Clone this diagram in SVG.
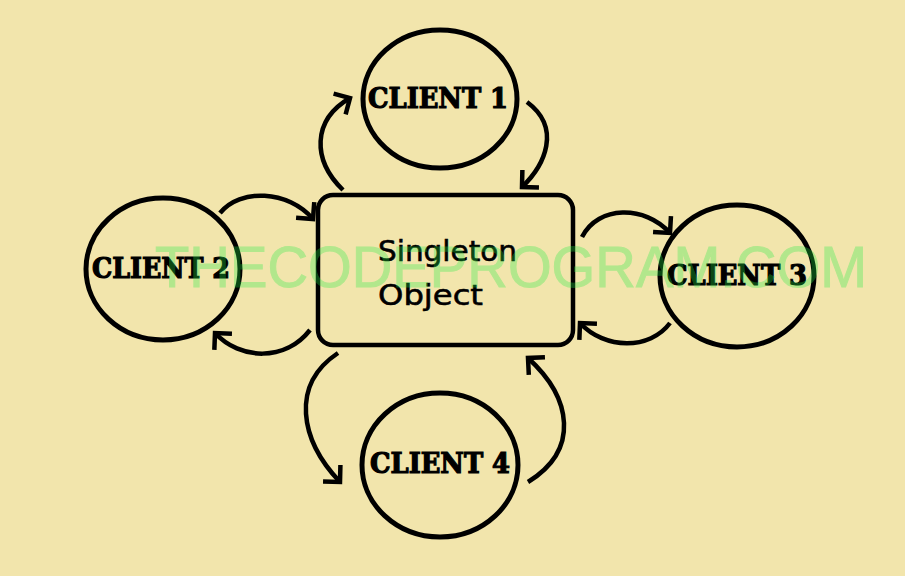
<svg xmlns="http://www.w3.org/2000/svg" width="905" height="576" viewBox="0 0 905 576">
  <defs>
    <marker id="arrow" markerUnits="userSpaceOnUse" viewBox="-20 -20 40 40" markerWidth="40" markerHeight="40" refX="0" refY="0" orient="auto" overflow="visible">
      <path d="M-12,-12 L0,0 L-12,12" fill="none" stroke="#000" stroke-width="4.5" stroke-linejoin="miter"/>
    </marker>
  </defs>
  <style>
    .client { fill: none; stroke: #000; stroke-width: 5; }
    .ctext { font-family: "DejaVu Serif", "Liberation Serif", serif; font-weight: bold; font-size: 27px; fill: #000; stroke: #000; stroke-width: 1.2; }
    .box { fill: none; stroke: #000; stroke-width: 4.5; }
    .btext { font-family: "DejaVu Sans", "Noto Sans", sans-serif; font-size: 29px; fill: #000; stroke: #000; stroke-width: 0.6; }
    .conn { fill: none; stroke: #000; stroke-width: 4.5; marker-end: url(#arrow); }
    .wm { font-family: "Liberation Sans", Arial, sans-serif; font-size: 58px; fill: #22ee44; opacity: 0.3; stroke: #22ee44; stroke-width: 1; }
  </style>
  <rect x="0" y="0" width="905" height="576" fill="#F2E5AC"/>

  <g id="singleton">
    <rect class="box" x="318" y="195" width="255" height="150" rx="15" ry="15"/>
    <text class="btext" x="378" y="261" textLength="139" lengthAdjust="spacingAndGlyphs">Singleton</text>
    <text class="btext" x="378" y="305" textLength="105" lengthAdjust="spacingAndGlyphs">Object</text>
  </g>

  <g id="client1">
    <ellipse class="client" cx="440" cy="99" rx="77" ry="69"/>
    <text class="ctext" x="368" y="108" textLength="140" lengthAdjust="spacingAndGlyphs">CLIENT 1</text>
  </g>

  <g id="client2">
    <ellipse class="client" cx="163" cy="269" rx="77" ry="71"/>
    <text class="ctext" x="92" y="278" textLength="138" lengthAdjust="spacingAndGlyphs">CLIENT 2</text>
  </g>

  <g id="client3">
    <ellipse class="client" cx="737" cy="276" rx="77" ry="71"/>
    <text class="ctext" x="667" y="285" textLength="140" lengthAdjust="spacingAndGlyphs">CLIENT 3</text>
  </g>

  <g id="client4">
    <ellipse class="client" cx="440" cy="465" rx="78" ry="72"/>
    <text class="ctext" x="370" y="473" textLength="140" lengthAdjust="spacingAndGlyphs">CLIENT 4</text>
  </g>

  <g id="connectors">
    <path class="conn" d="M343,190 C312,160 312,120 350,98"/>
    <path class="conn" d="M527,102 C562,128 545,165 522,187"/>
    <path class="conn" d="M220,213 C240,188 288,190 313,219"/>
    <path class="conn" d="M310,330 C285,362 240,360 215,333"/>
    <path class="conn" d="M582,237 C598,205 645,205 670,233"/>
    <path class="conn" d="M670,323 C650,350 605,350 580,323"/>
    <path class="conn" d="M338,353 C290,385 300,440 340,482"/>
    <path class="conn" d="M528,482 C580,450 572,398 528,358"/>
  </g>

  <text class="wm" x="155" y="287" textLength="712" lengthAdjust="spacingAndGlyphs">THECODEPROGRAM.COM</text>
</svg>
